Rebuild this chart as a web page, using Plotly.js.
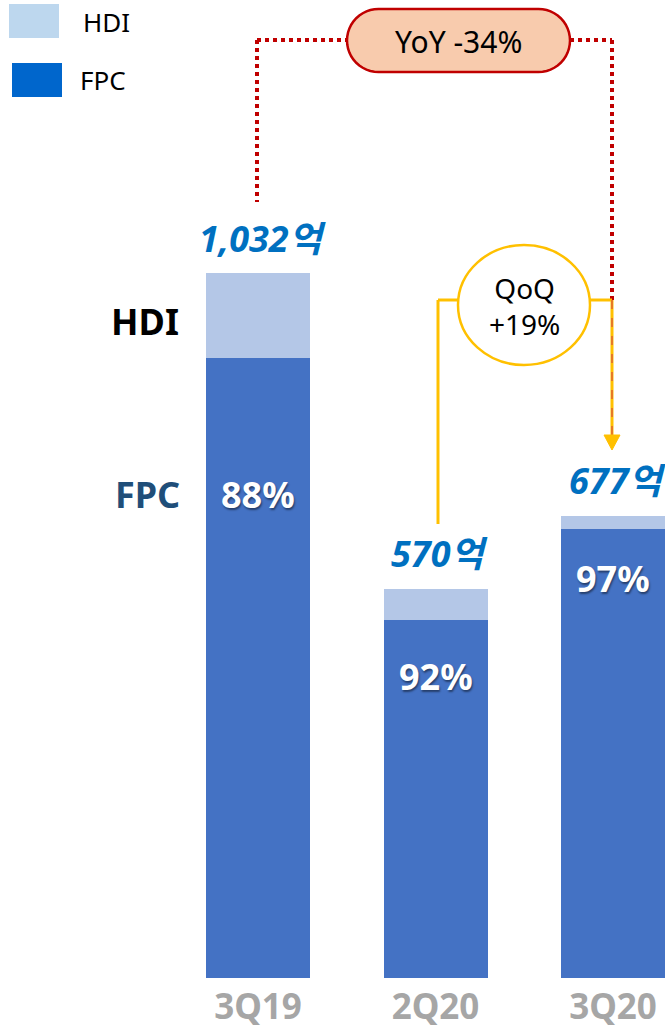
<!DOCTYPE html>
<html>
<head>
<meta charset="utf-8">
<script src="https://cdn.plot.ly/plotly-3.0.1.min.js"></script>
<style>html,body{margin:0;padding:0;background:#fff;}#chart{width:665px;height:1031px;}</style>
</head>
<body>
<div id="chart"></div>
<script>
// ---- data ----
const categories = ['3Q19', '2Q20', '3Q20'];
const totals = [1032, 570, 677];          // 억 원
const fpcShare = [88, 92, 97];             // %
const totalLabels = ['1,032억', '570억', '677억'];
const shareLabels = ['88%', '92%', '97%'];
const seriesNames = ['FPC', 'HDI'];
const yoyText = 'YoY -34%';
const qoqText = 'QoQ<br>+19%';

const fpcValues = totals.map((t, i) => t * fpcShare[i] / 100);
const hdiValues = totals.map((t, i) => t - fpcValues[i]);

// ---- pixel helpers for decorations ----
const PXU = 177.5, X0 = 258, PYU = 0.683, BASE = 978;
const X = px => (px - X0) / PXU;
const Y = py => (BASE - py) / PYU;
const P = (px, py) => X(px) + ',' + Y(py);

const FONT = 'Noto Sans, Noto Sans CJK KR, sans-serif';
const BARW = 104 / PXU;

const traces = [
  {type: 'bar', name: seriesNames[0], x: categories, y: fpcValues, width: BARW,
   marker: {color: '#4472C4', line: {width: 0}}, hoverinfo: 'skip'},
  {type: 'bar', name: seriesNames[1], x: categories, y: hdiValues, width: BARW,
   marker: {color: '#B4C7E7', line: {width: 0}}, hoverinfo: 'skip'}
];

// stadium path for YoY box
function stadium(x0, x1, yc, r) {
  let d = '';
  const n = 24;
  for (let k = 0; k <= n; k++) {
    const a = -Math.PI / 2 + Math.PI * k / n;
    const px = x1 - r + r * Math.cos(a), py = yc + r * Math.sin(a);
    d += (k === 0 ? 'M' : 'L') + P(px, py);
  }
  for (let k = 0; k <= n; k++) {
    const a = Math.PI / 2 + Math.PI * k / n;
    const px = x0 + r + r * Math.cos(a), py = yc + r * Math.sin(a);
    d += 'L' + P(px, py);
  }
  return d + 'Z';
}

const red = '#C00000', yellow = '#FFC000';
const line = (x0, y0, x1, y1, color, width, dash) => ({
  type: 'line', xref: 'x', yref: 'y', x0: X(x0), y0: Y(y0), x1: X(x1), y1: Y(y1),
  line: {color: color, width: width, dash: dash || 'solid'}, layer: 'above'
});

const shapes = [
  // legend swatches
  {type: 'rect', xref: 'x', yref: 'y', x0: X(9), x1: X(59), y0: Y(4), y1: Y(38),
   fillcolor: '#BDD7EE', line: {width: 0}},
  {type: 'rect', xref: 'x', yref: 'y', x0: X(12), x1: X(62), y0: Y(63), y1: Y(97),
   fillcolor: '#0066CC', line: {width: 0}},
  // YoY connector (red dotted)
  line(257, 40, 257, 202, red, 4, 'dot'),
  line(257, 40, 347, 40, red, 4, 'dot'),
  line(570, 40, 612, 40, red, 4, 'dot'),
  line(612, 40, 612, 300, red, 4, 'dot'),
  // QoQ connector (yellow)
  line(438, 300, 438, 524, yellow, 3),
  line(438, 300, 460, 300, yellow, 3),
  line(588, 300, 612, 300, yellow, 3),
  line(612, 300, 612, 437, yellow, 3),
  line(612, 300, 612, 437, '#E06030', 1.5, 'dash'),
  {type: 'path', xref: 'x', yref: 'y', path: 'M' + P(604, 435) + 'L' + P(620, 435) + 'L' + P(612, 450) + 'Z',
   fillcolor: yellow, line: {color: yellow, width: 1}},
  // YoY box
  {type: 'path', xref: 'x', yref: 'y', path: stadium(347, 570, 40.5, 31.5),
   fillcolor: '#F8CBAD', line: {color: red, width: 2.5}},
  // QoQ circle
  {type: 'circle', xref: 'x', yref: 'y', x0: X(458), x1: X(590), y0: Y(245), y1: Y(365),
   fillcolor: '#FFFFFF', line: {color: yellow, width: 2.5}}
];

const annotations = [];
// legend text
annotations.push({xref: 'x', yref: 'y', x: X(81), y: Y(22), text: 'HDI', showarrow: false,
  xanchor: 'left', yanchor: 'middle', font: {family: FONT, size: 26, color: '#000'}});
annotations.push({xref: 'x', yref: 'y', x: X(78), y: Y(80), text: 'FPC', showarrow: false,
  xanchor: 'left', yanchor: 'middle', font: {family: FONT, size: 26, color: '#000'}});
// side labels
annotations.push({xref: 'x', yref: 'y', x: X(145), y: Y(321), text: '<b>HDI</b>', showarrow: false,
  font: {family: FONT, size: 36, color: '#000'}});
annotations.push({xref: 'x', yref: 'y', x: X(147), y: Y(494), text: '<b>FPC</b>', showarrow: false,
  font: {family: FONT, size: 36, color: '#1F4E79'}});
// totals
categories.forEach((c, i) => {
  annotations.push({x: c, y: totals[i], yanchor: 'middle', yshift: 35, xshift: 4,
    text: '<b><i>' + totalLabels[i] + '</i></b>', showarrow: false,
    font: {family: FONT, size: 36, color: '#0070C0'}});
});
// shares
const sharePy = [494, 676, 578];
categories.forEach((c, i) => {
  annotations.push({x: c, y: Y(sharePy[i]), yanchor: 'middle',
    text: '<b>' + shareLabels[i] + '</b>', showarrow: false,
    font: {family: FONT, size: 36, color: '#FFFFFF', shadow: '1px 2px 2px rgba(0,0,0,0.45)'}});
});
// YoY / QoQ text
annotations.push({xref: 'x', yref: 'y', x: X(458), y: Y(41), text: yoyText, showarrow: false,
  font: {family: FONT, size: 30, color: '#000'}});
annotations.push({xref: 'x', yref: 'y', x: X(524), y: Y(306), text: qoqText, showarrow: false,
  font: {family: FONT, size: 28, color: '#000'}});

const layout = {
  width: 665, height: 1031,
  margin: {l: 0, r: 0, t: 0, b: 53, pad: 0},
  paper_bgcolor: '#FFFFFF', plot_bgcolor: '#FFFFFF',
  barmode: 'stack', showlegend: false,
  xaxis: {type: 'category', range: [X(0), X(665)], showgrid: false, zeroline: false,
    showline: false, ticks: '', ticklabelstandoff: 5,
    tickfont: {family: FONT, size: 35, color: '#A6A6A6', weight: 'bold'}, fixedrange: true},
  yaxis: {range: [0, Y(0)], visible: false, fixedrange: true},
  shapes: shapes,
  annotations: annotations
};

Plotly.newPlot('chart', traces, layout, {displayModeBar: false, staticPlot: true});
</script>
</body>
</html>
